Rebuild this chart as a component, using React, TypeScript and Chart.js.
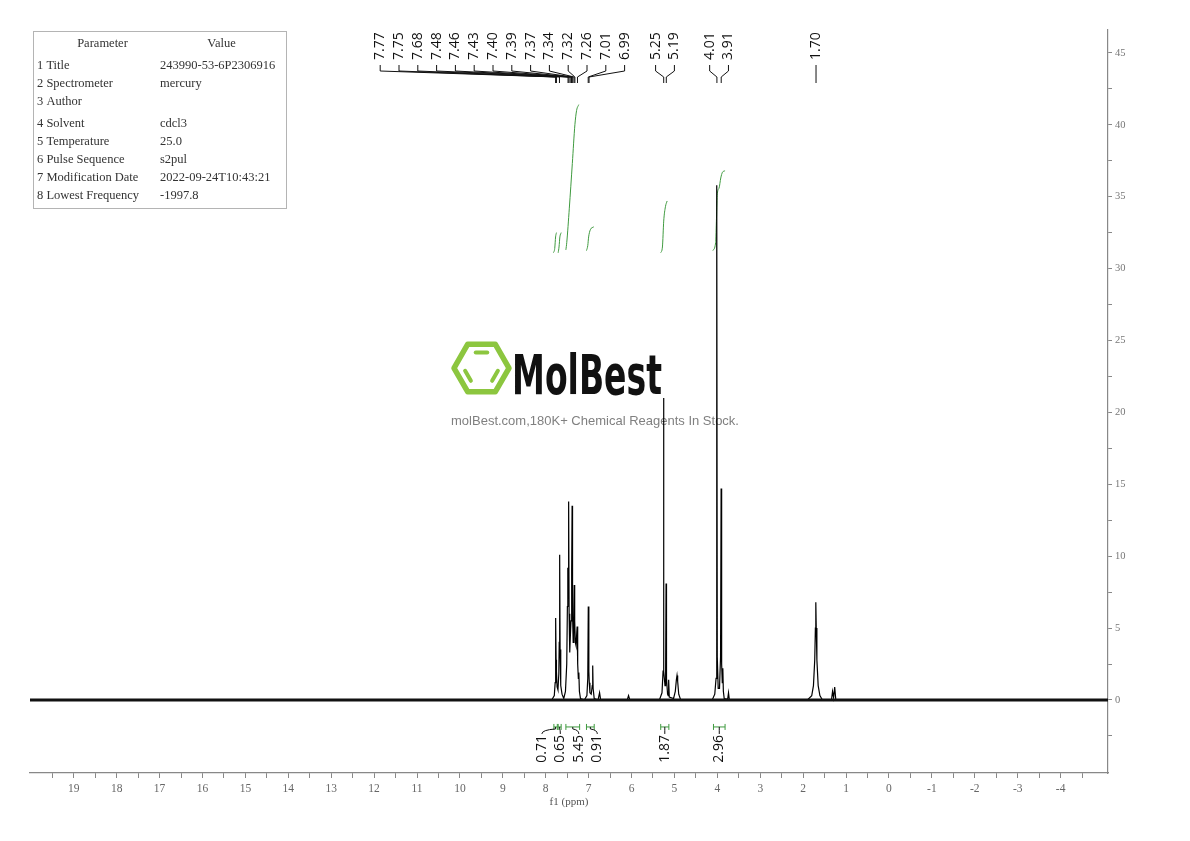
import React, { useEffect, useRef } from "react";
import { Chart, registerables } from "chart.js";

Chart.register(...registerables);

// ---------------- DATA ----------------
const SPECTRUM_PPM = [
  20.0, 7.86, 7.8, 7.78, 7.772, 7.765, 7.758, 7.75, 7.735, 7.715, 7.695, 7.685, 7.675, 7.665, 7.65, 7.62, 7.58,
  7.54, 7.51, 7.495, 7.485, 7.475, 7.466, 7.455, 7.44, 7.425, 7.41, 7.395, 7.385, 7.375, 7.36, 7.345, 7.335,
  7.325, 7.31, 7.295, 7.28, 7.268, 7.255, 7.24, 7.228, 7.215, 7.19, 7.1, 7.04, 7.02, 7.008, 6.995, 6.985, 6.97,
  6.94, 6.915, 6.905, 6.895, 6.87, 6.78, 6.745, 6.72, 6.1, 6.07, 6.04,
  5.35, 5.29, 5.265, 5.255, 5.245, 5.22, 5.205, 5.195, 5.185, 5.16, 5.145, 5.135, 5.12, 5.02, 4.98, 4.955, 4.94,
  4.925, 4.9, 4.86,
  4.12, 4.06, 4.03, 4.018, 4.01, 4.002, 3.98, 3.95, 3.925, 3.912, 3.9, 3.885, 3.872, 3.86, 3.84, 3.76, 3.74, 3.72,
  1.9, 1.8, 1.76, 1.73, 1.715, 1.705, 1.695, 1.68, 1.65, 1.61, 1.55,
  1.34, 1.315, 1.29, 1.265, 1.24, 1.2, -5.1,
];
const SPECTRUM_INT = [
  0, 0, 0.3, 1.2, 2.6, 5.7, 2.8, 2.0, 0.9, 0.7, 1.8, 4.0, 10.1, 3.5, 1.0, 0.4, 0.1,
  0.6, 2.5, 6.5, 9.2, 9.0, 13.8, 6.0, 3.3, 4.5, 5.5, 9.0, 13.5, 6.0, 4.0, 6.0, 8.0,
  5.5, 4.0, 3.8, 4.5, 5.1, 2.5, 1.5, 1.9, 0.6, 0.1, 0, 0.3, 1.5, 6.5, 2.0, 1.2, 0.5,
  0.4, 1.0, 2.4, 0.8, 0.1, 0, 0.5, 0, 0, 0.3, 0,
  0, 0.5, 2.0, 21.0, 2.0, 1.0, 2.0, 8.1, 1.5, 0.4, 0.3, 1.4, 0.2, 0.1, 0.6, 1.4, 1.7,
  1.3, 0.4, 0.05,
  0, 0.4, 1.5, 3.5, 35.8, 3.0, 0.8, 0.8, 3.0, 14.7, 2.5, 1.2, 2.2, 0.6, 0.1, 0.05, 0.5, 0,
  0, 0.3, 1.0, 2.8, 5.0, 6.8, 5.0, 2.8, 1.0, 0.3, 0,
  0, 0.6, 0.15, 0.9, 0.05, 0, 0,
];
const BASELINE_PPM = [20.1, -5.2];
const BASELINE_INT = [0, 0];

const PEAK_LABELS = [7.77, 7.75, 7.68, 7.48, 7.46, 7.43, 7.4, 7.39, 7.37, 7.34, 7.32, 7.26, 7.01, 6.99, 5.25, 5.19, 4.01, 3.91, 1.7];

const INTEGRAL_FROM = [7.81, 7.71, 7.53, 7.05, 5.32, 4.09];
const INTEGRAL_TO = [7.73, 7.64, 7.21, 6.87, 5.13, 3.82];
const INTEGRAL_VALUES = ["0.71", "0.65", "5.45", "0.91", "1.87", "2.96"];

const INTEGRAL_CURVE_PPM = [
  [7.82, 7.79, 7.77, 7.75],
  [7.71, 7.69, 7.67, 7.64],
  [7.53, 7.51, 7.45, 7.38, 7.32, 7.28, 7.23],
  [7.05, 7.02, 7.0, 6.96, 6.88],
  [5.32, 5.28, 5.25, 5.21, 5.17],
  [4.11, 4.04, 4.02, 4.0, 3.96, 3.92, 3.88, 3.82],
];
const INTEGRAL_CURVE_LEVEL = [
  [31.1, 31.4, 32.2, 32.5],
  [31.1, 31.5, 32.2, 32.5],
  [31.3, 31.8, 34.2, 37.3, 40.0, 41.0, 41.4],
  [31.25, 31.6, 32.2, 32.7, 32.9],
  [31.1, 31.5, 33.3, 34.3, 34.7],
  [31.25, 31.8, 33.5, 35.2, 35.6, 36.3, 36.7, 36.8],
];

const X_MAJOR_TICKS = [19, 18, 17, 16, 15, 14, 13, 12, 11, 10, 9, 8, 7, 6, 5, 4, 3, 2, 1, 0, -1, -2, -3, -4];
const X_MINOR_TICKS = [19.5, 18.5, 17.5, 16.5, 15.5, 14.5, 13.5, 12.5, 11.5, 10.5, 9.5, 8.5, 7.5, 6.5, 5.5, 4.5, 3.5, 2.5, 1.5, 0.5, -0.5, -1.5, -2.5, -3.5, -4.5];
const Y_MAJOR_TICKS = [0, 5, 10, 15, 20, 25, 30, 35, 40, 45];
const Y_MINOR_TICKS = [-2.5, 2.5, 7.5, 12.5, 17.5, 22.5, 27.5, 32.5, 37.5, 42.5];

const PARAM_NAMES = ["1 Title", "2 Spectrometer", "3 Author", "4 Solvent", "5 Temperature", "6 Pulse Sequence", "7 Modification Date", "8 Lowest Frequency"];
const PARAM_VALUES = ["243990-53-6P2306916", "mercury", "", "cdcl3", "25.0", "s2pul", "2022-09-24T10:43:21", "-1997.8"];

// ---------------- HELPERS ----------------
const GREEN = "#3f9a3f";
const SANS = '"Open Sans", "Liberation Sans", sans-serif';
const SERIF = '"Liberation Serif", "DejaVu Serif", serif';

function spread(desired: number[], spacing: number, gap: number): number[] {
  const clusters: number[][] = [];
  desired.forEach((d, i) => {
    const last = clusters[clusters.length - 1];
    if (last && d - desired[last[last.length - 1]] < spacing) last.push(i);
    else clusters.push([i]);
  });
  const starts = clusters.map((c) => {
    const mean = c.reduce((s, i) => s + desired[i], 0) / c.length;
    return mean - ((c.length - 1) * spacing) / 2;
  });
  for (let k = clusters.length - 2; k >= 0; k--) {
    const end = starts[k] + (clusters[k].length - 1) * spacing;
    if (end + gap > starts[k + 1]) starts[k] = starts[k + 1] - gap - (clusters[k].length - 1) * spacing;
  }
  const out: number[] = new Array(desired.length);
  clusters.forEach((c, k) => c.forEach((i, j) => (out[i] = starts[k] + j * spacing)));
  return out;
}

function drawWatermark(chart: any) {
  const ctx = chart.ctx as CanvasRenderingContext2D;
  const cx = chart.width / 2;
  const cy = chart.height / 2;
  ctx.save();
  // hexagon logo
  const hx = cx - 113.5, hy = cy - 52.5, r = 27.5;
  ctx.strokeStyle = "#8cc63f";
  ctx.lineWidth = 5.5;
  ctx.lineJoin = "round";
  ctx.beginPath();
  for (let k = 0; k < 6; k++) {
    const a = (Math.PI / 3) * k;
    const px = hx + r * Math.cos(a), py = hy + r * Math.sin(a);
    if (k === 0) ctx.moveTo(px, py); else ctx.lineTo(px, py);
  }
  ctx.closePath();
  ctx.stroke();
  ctx.lineWidth = 4;
  ctx.lineCap = "round";
  const ir = 18;
  const pts: [number, number][] = [];
  for (let k = 0; k < 6; k++) {
    const a = (Math.PI / 3) * k;
    pts.push([hx + ir * Math.cos(a), hy + ir * Math.sin(a)]);
  }
  const segs = [[4, 5], [2, 3], [0, 1]];
  segs.forEach(([a, b]) => {
    const [x1, y1] = pts[a], [x2, y2] = pts[b];
    const sx = x1 + (x2 - x1) * 0.18, sy = y1 + (y2 - y1) * 0.18;
    const ex = x1 + (x2 - x1) * 0.82, ey = y1 + (y2 - y1) * 0.82;
    ctx.beginPath(); ctx.moveTo(sx, sy); ctx.lineTo(ex, ey); ctx.stroke();
  });
  // brand text
  ctx.fillStyle = "#111";
  ctx.font = `bold 56px "DejaVu Sans", sans-serif`;
  ctx.textBaseline = "alphabetic";
  ctx.textAlign = "left";
  const w = ctx.measureText("MolBest").width;
  ctx.save();
  ctx.translate(cx - 83, cy - 27);
  ctx.scale(150 / w, 1);
  ctx.fillText("MolBest", 0, 0);
  ctx.restore();
  ctx.fillStyle = "#808080";
  ctx.font = `13px "Liberation Sans", Arial, sans-serif`;
  ctx.textAlign = "center";
  ctx.textBaseline = "middle";
  ctx.fillText("molBest.com,180K+ Chemical Reagents In Stock.", cx, cy + 1);
  ctx.restore();
}

function drawTable(chart: any) {
  const ctx = chart.ctx as CanvasRenderingContext2D;
  const { left, top } = chart.chartArea;
  const bx = left + 3.5, by = top + 1.5;
  ctx.save();
  ctx.strokeStyle = "#b4b4b4";
  ctx.lineWidth = 1;
  ctx.strokeRect(bx, by, 253, 177);
  ctx.fillStyle = "#333";
  ctx.font = `12.5px ${SERIF}`;
  ctx.textBaseline = "middle";
  ctx.textAlign = "center";
  ctx.fillText("Parameter", bx + 69, by + 12);
  ctx.fillText("Value", bx + 188, by + 12);
  ctx.textAlign = "left";
  PARAM_NAMES.forEach((name, i) => {
    const y = by + 34 + i * 18 + (i >= 3 ? 4 : 0);
    ctx.fillText(name, bx + 3.5, y);
    ctx.fillText(PARAM_VALUES[i], bx + 126.5, y);
  });
  ctx.restore();
}

function drawPeakLabels(chart: any) {
  const ctx = chart.ctx as CanvasRenderingContext2D;
  const xs = chart.scales.x;
  const top = chart.chartArea.top;
  const desired = PEAK_LABELS.map((p) => xs.getPixelForValue(p));
  const lx = spread(desired, 18.8, 31);
  ctx.save();
  ctx.fillStyle = "#111";
  ctx.strokeStyle = "#111";
  ctx.lineWidth = 1;
  ctx.font = `14px ${SANS}`;
  PEAK_LABELS.forEach((p, i) => {
    ctx.save();
    ctx.translate(lx[i], top + 30);
    ctx.rotate(-Math.PI / 2);
    ctx.textAlign = "left";
    ctx.textBaseline = "middle";
    ctx.fillText(p.toFixed(2), 0, 0);
    ctx.restore();
    ctx.beginPath();
    ctx.moveTo(lx[i], top + 35);
    ctx.lineTo(lx[i], top + 41);
    ctx.lineTo(desired[i], top + 47);
    ctx.lineTo(desired[i], top + 53);
    ctx.stroke();
  });
  ctx.restore();
}

function drawIntegrals(chart: any) {
  const ctx = chart.ctx as CanvasRenderingContext2D;
  const xs = chart.scales.x;
  const ys = chart.scales.y;
  const zeroY = ys.getPixelForValue(0);
  const by = zeroY + 27;
  const centers = INTEGRAL_FROM.map((f, i) => (xs.getPixelForValue(f) + xs.getPixelForValue(INTEGRAL_TO[i])) / 2);
  const lx = spread(centers, 18.5, 31);
  ctx.save();
  INTEGRAL_FROM.forEach((f, i) => {
    const x1 = xs.getPixelForValue(f);
    const x2 = xs.getPixelForValue(INTEGRAL_TO[i]);
    ctx.strokeStyle = GREEN;
    ctx.lineWidth = 1;
    ctx.beginPath();
    ctx.moveTo(x1, by); ctx.lineTo(x2, by);
    ctx.moveTo(x1, by - 3); ctx.lineTo(x1, by + 3);
    ctx.moveTo(x2, by - 3); ctx.lineTo(x2, by + 3);
    ctx.stroke();
    ctx.strokeStyle = "#111";
    ctx.beginPath();
    ctx.moveTo(centers[i], by);
    ctx.lineTo(centers[i], by + 2);
    ctx.quadraticCurveTo(lx[i], by + 3, lx[i], by + 7);
    ctx.stroke();
    ctx.save();
    ctx.translate(lx[i], by + 8);
    ctx.rotate(-Math.PI / 2);
    ctx.fillStyle = "#111";
    ctx.font = `14px ${SANS}`;
    ctx.textAlign = "right";
    ctx.textBaseline = "middle";
    ctx.fillText(INTEGRAL_VALUES[i], 0, 0);
    ctx.restore();
  });
  ctx.restore();
}

const nmrPlugin = {
  id: "nmrAnnotations",
  beforeDatasetsDraw(chart: any) {
    drawWatermark(chart);
  },
  afterDraw(chart: any) {
    drawTable(chart);
    drawPeakLabels(chart);
    drawIntegrals(chart);
  },
};

export default function App() {
  const ref = useRef<HTMLCanvasElement | null>(null);
  useEffect(() => {
    document.body.style.margin = "0";
    const canvas = ref.current!;
    const datasets: any[] = [
      {
        label: "baseline",
        data: BASELINE_PPM.map((x, i) => ({ x, y: BASELINE_INT[i] })),
        borderColor: "#111",
        borderWidth: 3,
        pointRadius: 0,
      },
      {
        label: "spectrum",
        data: SPECTRUM_PPM.map((x, i) => ({ x, y: SPECTRUM_INT[i] })),
        borderColor: "#000",
        borderWidth: 1.2,
        pointRadius: 0,
        tension: 0,
      },
    ];
    INTEGRAL_CURVE_PPM.forEach((ppm, k) => {
      datasets.push({
        label: "integral " + INTEGRAL_VALUES[k],
        data: ppm.map((x, i) => ({ x, y: INTEGRAL_CURVE_LEVEL[k][i] })),
        borderColor: GREEN,
        borderWidth: 1,
        pointRadius: 0,
        cubicInterpolationMode: "monotone",
      });
    });
    const xTicks = [...X_MAJOR_TICKS, ...X_MINOR_TICKS].sort((a, b) => b - a);
    const yTicks = [...Y_MAJOR_TICKS, ...Y_MINOR_TICKS].sort((a, b) => a - b);
    const chart = new Chart(canvas, {
      type: "line",
      data: { datasets },
      plugins: [nmrPlugin],
      options: {
        animation: false,
        responsive: false,
        devicePixelRatio: 1,
        layout: { padding: { left: 30, top: 30, right: 0, bottom: 0 } },
        plugins: { legend: { display: false }, tooltip: { enabled: false } },
        scales: {
          x: {
            type: "linear",
            reverse: true,
            min: -5.105,
            max: 20.02,
            position: "bottom",
            afterBuildTicks: (scale: any) => {
              scale.ticks = xTicks.map((v) => ({ value: v }));
            },
            afterFit: (scale: any) => {
              scale.height = 68;
            },
            ticks: {
              autoSkip: false,
              maxRotation: 0,
              padding: 4,
              color: "#666",
              font: { family: SERIF, size: 11.5 },
              callback: (v: any) => (X_MAJOR_TICKS.includes(Number(v)) ? String(v) : ""),
            },
            grid: { drawOnChartArea: false, tickLength: 5, color: "#888", tickWidth: 1 },
            border: { display: true, color: "#888", width: 1.2 },
            title: {
              display: true,
              text: "f1 (ppm)",
              color: "#555",
              font: { family: SERIF, size: 11 },
              padding: { top: 0, bottom: 32 },
            },
          },
          y: {
            type: "linear",
            position: "right",
            min: -5.08,
            max: 46.59,
            afterBuildTicks: (scale: any) => {
              scale.ticks = yTicks.map((v) => ({ value: v }));
            },
            afterFit: (scale: any) => {
              scale.width = 82;
            },
            ticks: {
              autoSkip: false,
              padding: 3,
              color: "#777",
              font: { family: SERIF, size: 10.5 },
              callback: (v: any) => (Y_MAJOR_TICKS.includes(Number(v)) ? String(v) : ""),
            },
            grid: { drawOnChartArea: false, tickLength: 4, color: "#888" },
            border: { display: true, color: "#888", width: 1.2 },
          },
        },
      },
    } as any);
    return () => chart.destroy();
  }, []);
  return (
    <div style={{ position: "fixed", left: 0, top: 0, width: 1190, height: 841, background: "#fff" }}>
      <canvas ref={ref} width={1190} height={841} style={{ display: "block", width: 1190, height: 841 }} />
    </div>
  );
}
